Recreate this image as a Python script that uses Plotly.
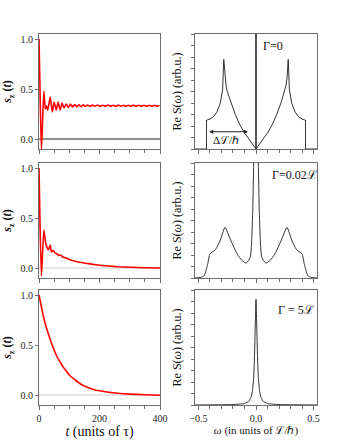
import plotly.graph_objects as go

# =========================
# DATA
# =========================
# left column: s_z(t), t in units of tau
t_top = [0, 3, 8, 16, 21, 25, 29, 37, 44, 50, 57, 63, 70, 76, 83, 90, 97, 104, 111, 118, 125,
         132, 139, 146, 153, 160, 168, 177, 185, 194, 202, 211, 219, 228, 236, 245, 253,
         262, 270, 279, 287, 296, 304, 313, 321, 330, 338, 347, 355, 364, 372, 381, 389, 398]
s_top = [1.0, 0.55, -0.12, 0.48, 0.30, 0.33, 0.29, 0.42, 0.27, 0.37, 0.29, 0.37, 0.29, 0.36,
         0.31, 0.35, 0.315, 0.35, 0.32, 0.345, 0.322, 0.343, 0.323, 0.342, 0.325, 0.340,
         0.326, 0.339, 0.327, 0.340, 0.327, 0.338, 0.327, 0.339, 0.328, 0.338, 0.327, 0.339,
         0.328, 0.338, 0.327, 0.338, 0.328, 0.339, 0.327, 0.338, 0.328, 0.338, 0.327, 0.338,
         0.328, 0.337, 0.328, 0.336]

t_mid = [0, 3, 8, 16, 22, 26, 31, 37, 41, 47, 53, 60, 66, 72, 78, 90, 100, 120, 140, 160,
         180, 200, 230, 260, 300, 350, 400]
s_mid = [1.0, 0.5, -0.08, 0.38, 0.25, 0.21, 0.18, 0.23, 0.16, 0.175, 0.15, 0.14, 0.125, 0.13,
         0.11, 0.10, 0.085, 0.068, 0.055, 0.045, 0.035, 0.028, 0.02, 0.013, 0.008, 0.003, 0.0]

t_bot = [0, 10, 20, 30, 40, 50, 60, 70, 80, 90, 100, 120, 140, 160, 180, 200, 230, 260,
         300, 350, 400]
s_bot = [1.0, 0.85, 0.72, 0.62, 0.53, 0.45, 0.38, 0.33, 0.28, 0.24, 0.2, 0.15, 0.105, 0.077,
         0.056, 0.042, 0.027, 0.017, 0.009, 0.003, -0.003]

# right column: Re S(omega), arb. units
w_top = [-0.53, -0.43, -0.43, -0.40, -0.37, -0.34, -0.31, -0.29, -0.28, -0.27, -0.26, -0.25,
         -0.22, -0.18, -0.14, -0.10, -0.05, 0.0,
         0.05, 0.10, 0.14, 0.18, 0.22, 0.25, 0.26, 0.27, 0.28, 0.29, 0.31, 0.34, 0.37, 0.40,
         0.43, 0.43, 0.53]
S_top = [0.0, 0.0, 0.25, 0.26, 0.28, 0.32, 0.40, 0.52, 0.78, 0.62, 0.55, 0.50,
         0.41, 0.30, 0.21, 0.14, 0.07, 0.0,
         0.07, 0.14, 0.21, 0.30, 0.41, 0.50, 0.55, 0.62, 0.78, 0.52, 0.40, 0.32, 0.28, 0.26,
         0.25, 0.0, 0.0]
delta_w = [0.0, 0.0]
delta_S = [0.0, 1.0]

w_mid = [-0.53, -0.48, -0.45, -0.42, -0.40, -0.35, -0.31, -0.27, -0.22, -0.165, -0.12, -0.085,
         -0.05, -0.03, -0.02, 0.0,
         0.02, 0.03, 0.05, 0.085, 0.12, 0.165, 0.22, 0.27, 0.31, 0.35, 0.40, 0.42, 0.45, 0.48, 0.53]
S_mid = [0.0, 0.005, 0.02, 0.12, 0.21, 0.25, 0.33, 0.44, 0.33, 0.21, 0.15, 0.13,
         0.18, 0.53, 1.0, 1.6,
         1.0, 0.53, 0.18, 0.13, 0.15, 0.21, 0.33, 0.44, 0.33, 0.25, 0.21, 0.12, 0.02, 0.005, 0.0]

w_bot = [-0.53, -0.3, -0.2, -0.1, -0.06, -0.04, -0.03, -0.02, -0.01, 0.0,
         0.01, 0.02, 0.03, 0.04, 0.06, 0.1, 0.2, 0.3, 0.53]
S_bot = [0.0, 0.002, 0.004, 0.013, 0.035, 0.076, 0.13, 0.24, 0.54, 0.92,
         0.54, 0.24, 0.13, 0.076, 0.035, 0.013, 0.004, 0.002, 0.0]

left_ticks = [0, 200, 400]
right_ticks = [-0.5, 0.0, 0.5]

# =========================
# GEOMETRY (pixels -> paper)
# =========================
W, H = 340, 440
def px_x(a, b):
    return [a / W, b / W]
def px_y(top, bottom):
    return [(H - bottom) / H, (H - top) / H]

x_left = px_x(39, 160)
x_right = px_x(195, 317)
rows = [px_y(34, 149), px_y(163, 278), px_y(290, 405)]

SERIF = "Liberation Serif"
FRAME = "#6e6e6e"

fig = go.Figure()

red_sets = [(t_top, s_top), (t_mid, s_mid), (t_bot, s_bot)]
gray_sets = [(w_top, S_top), (w_mid, S_mid), (w_bot, S_bot)]
zero_colors = ["#222222", "#cccccc", "#cccccc"]

for i in range(3):
    n_left = 2 * i + 1
    n_right = 2 * i + 2
    xl = "x" if n_left == 1 else f"x{n_left}"
    yl = "y" if n_left == 1 else f"y{n_left}"
    xr = f"x{n_right}"
    yr = f"y{n_right}"

    # zero line
    fig.add_trace(go.Scatter(x=[0, 400], y=[0, 0], mode="lines", xaxis=xl, yaxis=yl,
                             line=dict(color=zero_colors[i], width=1), showlegend=False))
    t, s = red_sets[i]
    fig.add_trace(go.Scatter(x=t, y=s, mode="lines", xaxis=xl, yaxis=yl,
                             line=dict(color="#ff0000", width=1.6, shape="spline", smoothing=0.5),
                             showlegend=False))
    w, S = gray_sets[i]
    if i == 0:
        fig.add_trace(go.Scatter(x=delta_w, y=delta_S, mode="lines", xaxis=xr, yaxis=yr,
                                 line=dict(color="#555555", width=2), showlegend=False))
        shape = "linear"
    else:
        shape = "spline"
    fig.add_trace(go.Scatter(x=w, y=S, mode="lines", xaxis=xr, yaxis=yr,
                             line=dict(color="#333333", width=1, shape=shape, smoothing=0.5),
                             showlegend=False))

axis_common = dict(showline=True, mirror=True, linecolor=FRAME, linewidth=1,
                   showgrid=False, zeroline=False, automargin=False,
                   tickfont=dict(family=SERIF, size=10, color="#222"))

layout = dict(width=W, height=H, margin=dict(l=0, r=0, t=0, b=0),
              plot_bgcolor="white", paper_bgcolor="white", showlegend=False)

for i in range(3):
    n_left = 2 * i + 1
    n_right = 2 * i + 2
    kx_l = "xaxis" if n_left == 1 else f"xaxis{n_left}"
    ky_l = "yaxis" if n_left == 1 else f"yaxis{n_left}"
    kx_r = f"xaxis{n_right}"
    ky_r = f"yaxis{n_right}"
    yl = "y" if n_left == 1 else f"y{n_left}"
    xl = "x" if n_left == 1 else f"x{n_left}"
    last = (i == 2)

    layout[kx_l] = dict(axis_common, domain=x_left, anchor=yl, range=[0, 400],
                        tickvals=left_ticks, ticks="outside", ticklen=4, tickcolor=FRAME,
                        showticklabels=last,
                        minor=dict(dtick=50, ticks="outside", ticklen=3, tickcolor=FRAME))
    layout[ky_l] = dict(axis_common, domain=rows[i], anchor=xl, range=[-0.1, 1.05],
                        tickvals=[0, 0.5, 1.0], tickformat=".1f", ticks="outside",
                        ticklen=3, tickcolor=FRAME,
                        title=dict(text="<b><i>s</i><sub>z</sub> (<i>t</i>)</b>",
                                   font=dict(family=SERIF, size=12, color="#111"), standoff=6))
    layout[kx_r] = dict(axis_common, domain=x_right, anchor=f"y{n_right}", range=[-0.53, 0.53],
                        tickvals=right_ticks, tickformat=".1f", ticks="outside", ticklen=4,
                        tickcolor=FRAME, showticklabels=last,
                        minor=dict(dtick=0.1, ticks="outside", ticklen=3, tickcolor=FRAME))
    layout[ky_r] = dict(axis_common, domain=rows[i], anchor=f"x{n_right}", range=[0, 1.0],
                        tickvals=[k / 10 for k in range(11)], ticks="outside", ticklen=3,
                        tickcolor=FRAME, showticklabels=False,
                        title=dict(text="Re S(<i>ω</i>) (arb.u.)",
                                   font=dict(family=SERIF, size=12, color="#111"), standoff=6))
    if last:
        layout[kx_l]["title"] = dict(text="<i>t</i> (units of τ)",
                                     font=dict(family=SERIF, size=14, color="#111"), standoff=2)
        layout[kx_r]["title"] = dict(text="<i>ω</i> (in units of ℒ/ℏ)",
                                     font=dict(family=SERIF, size=11, color="#111"), standoff=0)

fig.update_layout(**layout)

# =========================
# ANNOTATIONS
# =========================
ann_font = dict(family=SERIF, size=12, color="#111")
fig.add_annotation(x=0.04, y=0.9, xref="x2", yref="y2", text="Γ=0", showarrow=False,
                   xanchor="left", font=ann_font)
fig.add_annotation(x=-0.07, y=0.15, ax=-0.42, ay=0.15, xref="x2", yref="y2",
                   axref="x2", ayref="y2", text="", showarrow=True, arrowhead=2,
                   arrowside="end+start", arrowsize=0.8, arrowwidth=1, arrowcolor="#222")
fig.add_annotation(x=-0.26, y=0.08, xref="x2", yref="y2", text="Δℒ/ℏ", showarrow=False,
                   font=dict(family=SERIF, size=11, color="#111"))
fig.add_annotation(x=0.12, y=0.9, xref="x4", yref="y4", text="Γ=0.02ℒ", showarrow=False,
                   xanchor="left", font=ann_font)
fig.add_annotation(x=0.17, y=0.83, xref="x6", yref="y6", text="Γ = 5ℒ", showarrow=False,
                   xanchor="left", font=ann_font)

# page body has a default 8px margin; drop it so the figure sits at the corner
fig.write_html("out.html", config={"displayModeBar": False},
               post_script="document.body.style.margin='0';")
